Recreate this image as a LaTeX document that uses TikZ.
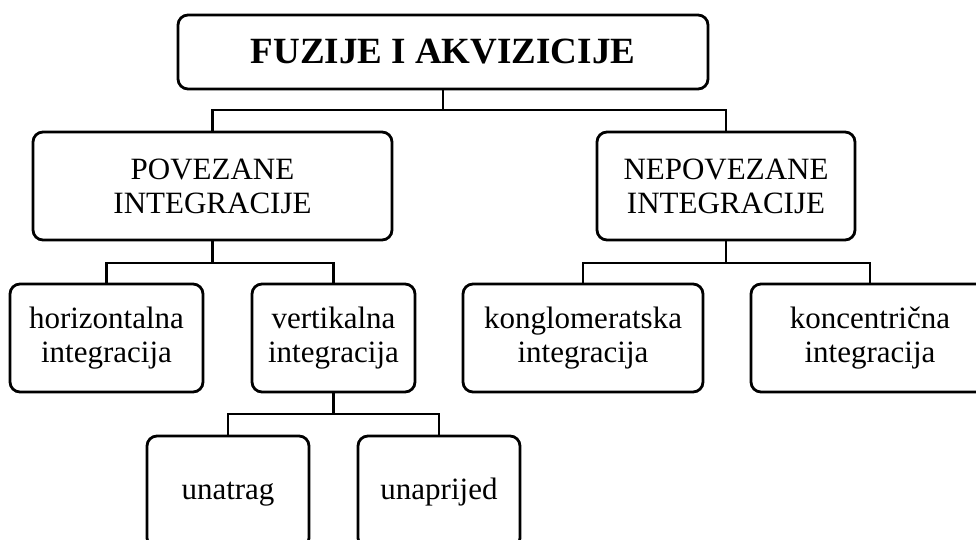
\documentclass[tikz,border=0pt]{standalone}
\usepackage{fontspec}
\setmainfont{Liberation Serif}
\usetikzlibrary{positioning}
\tikzset{
  box/.style={draw, rectangle, rounded corners=10pt, line width=2.8pt, align=center,
    inner sep=0pt, font=\fontsize{31}{34}\selectfont},
  onebox/.style={box, text height=22pt, text depth=7pt},
  titlebox/.style={box, font=\fontsize{37}{40}\selectfont\bfseries},
  conn/.style={line width=2.8pt}
}
\begin{document}
\begin{tikzpicture}[x=1pt,y=-1pt]
\useasboundingbox (0,0) rectangle (976,539);
\fill[white] (0,0) rectangle (976,539);
\clip (0,0) rectangle (976,539);
\node[titlebox, minimum width=530pt, minimum height=74pt] (top) at (443,52) {FUZIJE I AKVIZICIJE};
\node[box, minimum width=359pt, minimum height=108pt] (pov) at (212.5,186) {POVEZANE\\INTEGRACIJE};
\node[box, minimum width=258pt, minimum height=108pt] (nep) at (726,186) {NEPOVEZANE\\INTEGRACIJE};
\node[box, minimum width=193pt, minimum height=108pt] (hor) at (106.5,338) {horizontalna\\integracija};
\node[box, minimum width=163pt, minimum height=108pt] (ver) at (333.5,338) {vertikalna\\integracija};
\node[box, minimum width=240pt, minimum height=108pt] (kon) at (583,338) {konglomeratska\\integracija};
\node[box, minimum width=238pt, minimum height=108pt] (konc) at (870,338) {koncentrična\\integracija};
\node[onebox, minimum width=162pt, minimum height=112pt] (una) at (228,492) {unatrag};
\node[onebox, minimum width=162pt, minimum height=112pt] (unp) at (439,492) {unaprijed};
\coordinate (j1) at (443,110);
\coordinate (j2) at (212.5,263);
\coordinate (j3) at (726,263);
\coordinate (j4) at (333.5,414);
\draw[conn] (top.south) -- (j1);
\draw[conn] (pov.north) |- (j1) -| (nep.north);
\draw[conn] (pov.south) -- (j2);
\draw[conn] (hor.north) |- (j2) -| (ver.north);
\draw[conn] (nep.south) -- (j3);
\draw[conn] (kon.north) |- (j3) -| (konc.north);
\draw[conn] (ver.south) -- (j4);
\draw[conn] (una.north) |- (j4) -| (unp.north);
\end{tikzpicture}
\end{document}
